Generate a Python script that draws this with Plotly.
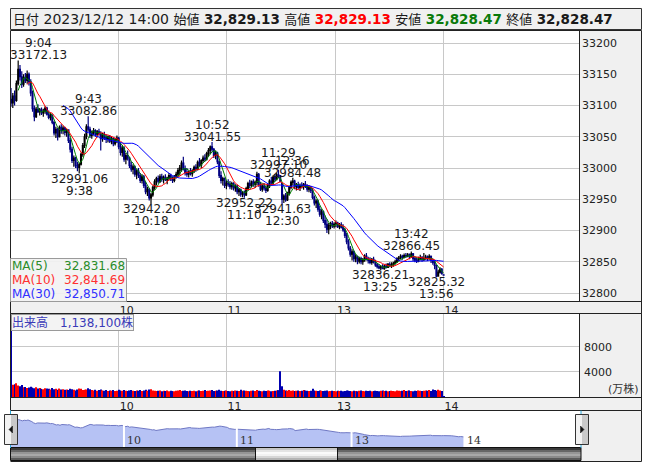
import plotly.graph_objects as go
import pandas as pd

W, H = 653, 470
def PX(x): return x / W
def PY(y): return 1 - y / H

# ---------------- data ----------------
morning = pd.date_range("2023-12-12 09:00", "2023-12-12 11:30", freq="1min")
afternoon = pd.date_range("2023-12-12 12:30", "2023-12-12 14:00", freq="1min")
bar_times = [f"{t.hour}:{t.minute:02d}" for t in morning.append(afternoon)]

opens = [
 33110,33104,33115,33108,33135,33158,33146,33134,33145,33140,
 33150,33138,33120,33095,33082,33094,33090,33093,33088,33091,
 33096,33086,33081,33084,33073,33056,33062,33050,33065,33060,
 33064,33057,33061,33044,33030,33012,33016,33004,33001,33006,
 33022,33036,33050,33066,33062,33052,33057,33060,33054,33058,
 33055,33047,33053,33049,33046,33050,33043,33047,33039,33045,
 33048,33034,33025,33032,33014,33020,33016,33004,32998,33002,
 32990,32995,32988,32980,32986,32972,32962,32966,32952,32957,
 32969,32978,32983,32979,32986,32982,32985,32981,32984,32988,
 32983,32980,32986,32990,32996,33000,33008,32999,32993,32990,
 32994,32991,32996,33001,32998,33009,33005,33012,33016,33014,
 33023,33028,33034,33030,33020,33024,33010,32988,32980,32983,
 32972,32976,32974,32970,32975,32968,32971,32962,32965,32958,
 32960,32957,32967,32975,32972,32978,32974,32977,32990,32974,
 32966,32971,32968,32964,32972,32979,32976,32985,32982,32989,
 32988,32975,32950,32955,32949,32960,32969,32977,32979,32970,
 32973,32969,32972,32970,32974,32971,32966,32969,32964,32953,
 32944,32947,32934,32926,32930,32916,32910,32902,32908,32911,
 32907,32910,32912,32906,32909,32905,32901,32892,32882,32872,
 32862,32866,32855,32858,32851,32855,32850,32853,32859,32855,
 32852,32849,32854,32850,32845,32842,32840,32842,32839,32843,
 32841,32846,32844,32845,32847.5,32850,32854.5,32856,32858.5,32857,
 32860,32859.5,32861,32858,32862.5,32855,32852.5,32851,32854,32856.5,
 32853.5,32855,32857.4,32855,32858.5,32852,32849,32844,32827,32833.5,
 32838,32829.13,
]
highs = [
 33128,33120,33124,33140,33172.13,33165,33155,33150,33152,33156,
 33153,33142,33124,33100,33098,33102,33096,33097,33095,33099,
 33098,33092,33088,33086,33075,33066,33064,33068,33070,33068,
 33066,33063,33062,33048,33034,33020,33018,33010,33008,33025,
 33040,33055,33070,33082.86,33066,33060,33064,33062,33061,33063,
 33059,33056,33058,33054,33052,33053,33050,33049,33048,33052,
 33050,33040,33036,33035,33024,33028,33018,33010,33006,33004,
 32998,33000,32992,32990,32989,32978,32970,32968,32960,32972,
 32982,32986,32988,32990,32991,32988,32990,32986,32992,32991,
 32987,32989,32994,33000,33005,33012,33018,33004,33000,32996,
 33000,32998,33004,33006,33012,33016,33014,33020,33022,33026,
 33032,33036,33041.55,33032,33028,33026,33012,32995,32986,32985,
 32980,32982,32979,32978,32977,32974,32973,32968,32967,32963,
 32964,32970,32978,32981,32980,32982,32980,32994,32992,32978,
 32974,32976,32972,32975,32982,32986,32988,32990,32992,32997.10,
 32988,32976,32958,32960,32962,32972,32980,32984.48,32981,32976,
 32978,32975,32977,32976,32979,32974,32972,32971,32968,32956,
 32950,32949,32940,32934,32932,32924,32918,32912,32914,32915,
 32913,32916,32914,32912,32913,32910,32904,32896,32886,32875,
 32870,32868,32862,32860,32858,32858,32856,32862,32864,32858,
 32857,32856,32858,32853,32848,32846,32844,32846,32845,32847,
 32848,32849,32849,32850,32853,32857,32859,32862,32861,32863,
 32864,32864,32863,32866.45,32864,32858,32856,32858,32861,32859,
 32864,32861,32860,32862,32860,32855,32851,32845,32837,32841,
 32840,32829.13,
]
lows = [
 33098,33096,33100,33106,33132,33140,33128,33130,33136,33135,
 33132,33115,33090,33075,33080,33088,33084,33085,33082,33087,
 33084,33078,33076,33070,33052,33048,33044,33049,33055,33054,
 33052,33050,33040,33025,33008,33002,33000,32995,32991.06,33004,
 33018,33032,33046,33058,33048,33047,33052,33050,33049,33052,
 33028,33042,33045,33040,33041,33040,33038,33035,33036,33040,
 33030,33020,33018,33010,33006,33012,33000,32994,32990,32986,
 32982,32984,32976,32975,32968,32958,32955,32948,32942.20,32954,
 32965,32972,32975,32976,32978,32975,32979,32974,32980,32979,
 32976,32977,32983,32986,32988,32994,32996,32988,32986,32985,
 32988,32986,32992,32994,32996,33002,33000,33008,33010,33012,
 33018,33022,33026,33016,33014,33006,32984,32975,32972,32968,
 32966,32970,32966,32965,32964,32962,32958,32955,32954,32953,
 32952.22,32955,32964,32968,32969,32970,32968,32972,32970,32963,
 32962,32964,32960,32962,32968,32972,32974,32978,32980,32984,
 32978,32941.63,32944,32946,32947,32956,32966,32972,32966,32964,
 32966,32963,32967,32965,32968,32962,32961,32960,32950,32940,
 32936,32930,32922,32918,32912,32904,32896,32894,32902,32904,
 32903,32905,32904,32902,32903,32898,32888,32878,32868,32858,
 32852,32850,32849,32846,32847,32846,32845,32850,32852,32847,
 32846,32845,32847,32842,32839,32838,32836.21,32838,32837,32839,
 32840,32841,32840,32842,32845,32848,32851,32854,32853,32855,
 32856,32857,32854,32856,32851,32849,32848,32849,32852,32850,
 32851,32853,32851,32853,32848,32845,32838,32825.32,32826,32831,
 32829,32828.47,
]
closes = [
 33104,33115,33108,33135,33158,33146,33134,33145,33140,33150,
 33138,33120,33095,33082,33094,33090,33093,33088,33091,33096,
 33086,33081,33084,33073,33056,33062,33050,33065,33060,33064,
 33057,33061,33044,33030,33012,33016,33004,33001,33006,33022,
 33036,33050,33066,33062,33052,33057,33060,33054,33058,33055,
 33047,33053,33049,33046,33050,33043,33047,33039,33045,33048,
 33034,33025,33032,33014,33020,33016,33004,32998,33002,32990,
 32995,32988,32980,32986,32972,32962,32966,32952,32957,32969,
 32978,32983,32979,32986,32982,32985,32981,32984,32988,32983,
 32980,32986,32990,32996,33000,33008,32999,32993,32990,32994,
 32991,32996,33001,32998,33009,33005,33012,33016,33014,33023,
 33028,33034,33030,33020,33024,33010,32988,32980,32983,32972,
 32976,32974,32970,32975,32968,32971,32962,32965,32958,32960,
 32957,32967,32975,32972,32978,32974,32977,32990,32974,32966,
 32971,32968,32964,32972,32979,32976,32985,32982,32989,32988,
 32978,32950,32955,32949,32960,32969,32977,32979,32970,32973,
 32969,32972,32970,32974,32971,32966,32969,32964,32953,32944,
 32947,32934,32926,32930,32916,32910,32902,32908,32911,32907,
 32910,32912,32906,32909,32905,32901,32892,32882,32872,32862,
 32866,32855,32858,32851,32855,32850,32853,32859,32855,32852,
 32849,32854,32850,32845,32842,32840,32842,32839,32843,32841,
 32846,32844,32845.0,32847.5,32850.0,32854.5,32856.0,32858.5,32857.0,32860.0,
 32859.5,32861.0,32858.0,32862.5,32855.0,32852.5,32851.0,32854.0,32856.5,32853.5,
 32855.0,32857.4,32855.0,32858.5,32852.0,32849.0,32844.0,32827.0,32833.5,32838.0,
 32831.43,32828.47,
]
volumes = [  # 万株
 13500,1950,2050,2200,1850,1700,1900,1550,1600,1450,
 1500,1650,1500,1400,1550,1350,1450,1300,1250,1400,
 1350,1300,1200,1450,1250,1300,1150,1350,1200,1250,
 1150,1200,1100,1300,1250,1150,1050,1200,1350,1300,
 1100,1150,1200,1400,1250,1100,1050,1150,1000,1100,
 1200,1050,1000,1100,950,1050,1000,1100,950,1000,
 1150,1050,1000,1100,1000,950,1050,1100,1000,950,
 1050,1000,1100,950,1050,1150,1000,1200,1250,1050,
 1000,950,1000,1050,900,1000,950,1050,900,1000,
 950,900,1000,1050,1100,950,1000,1050,950,900,
 1000,950,1000,900,1000,1050,950,1000,1100,950,
 1000,1050,1100,950,1000,1050,1150,1000,950,1000,
 1050,950,900,1000,950,1050,1000,950,1150,1000,
 1050,1000,950,900,1000,1050,950,1100,1000,950,
 900,1000,950,1050,1000,900,950,1000,1050,1100,
 4100,1700,1150,1050,1000,1100,1000,1050,950,1000,
 1050,950,1000,1100,1050,1000,950,1000,1300,1050,
 1000,950,1050,1000,950,1000,1050,900,950,1000,
 950,900,1000,950,1000,900,950,1050,1000,950,
 900,1000,950,900,1000,1050,950,900,1000,950,
 1000,900,950,1000,950,900,1000,1050,950,1000,
 900,950,1000,950,900,1050,1000,950,1000,1100,
 950,1000,1050,950,900,1000,950,1050,1000,950,
 1000,1050,1000,1100,950,1200,1100,1000,1150,1050,
 950,113.81,
]

ma_windows = [5, 10, 30]
tick_times = ["10:00", "11:00", "13:00", "14:00"]
tick_text = ["10", "11", "13", "14"]

label_time = ["9:04", "9:38", "9:43", "10:18", "10:52", "11:10",
              "11:29", "12:30", "12:36", "13:25", "13:42", "13:56"]
label_price = [33172.13, 32991.06, 33082.86, 32942.20, 33041.55, 32952.22,
               32997.10, 32941.63, 32984.48, 32836.21, 32866.45, 32825.32]
label_kind = ["H", "L", "H", "L", "H", "L", "H", "L", "H", "L", "H", "L"]

header_date = "2023/12/12 14:00"
header_names = ["始値", "高値", "安値", "終値"]
header_values = [32829.13, 32829.13, 32828.47, 32828.47]

price_ticks = [32800, 32850, 32900, 32950, 33000, 33050, 33100, 33150, 33200]
volume_ticks = [4000, 8000]

assert len(bar_times) == len(opens) == len(highs) == len(lows) == len(closes) == len(volumes)

# ---------------- styles ----------------
FONT = "DejaVu Sans, Noto Sans CJK JP, sans-serif"
ma_colors = ["#008000", "#ff0000", "#0000ff"]
ma_text_colors = ["#2a8c2a", "#ff3030", "#3030ff"]
header_colors = ["#1a1a1a", "#ff0000", "#0a7a0a", "#1a1a1a"]
UP, DOWN = "#000000", "#000080"
GRID = "#c8c8c8"
PANEL = "#f0f0f0"

x = list(range(len(bar_times)))
pos = {t: i for i, t in enumerate(bar_times)}
tick_vals = [pos[t] for t in tick_times]

# main chart pixel geometry
MX0, MX1 = 10, 579
MY0, MY1 = 30, 301
VY0, VY1 = 314, 397
NY0, NY1 = 411, 447
pxbar = 1.795
x_range = [(MX0 - 11) / pxbar, (MX1 - 11) / pxbar]
nav_px = 1.881
nav_range = [(10 - 11.1) / nav_px, (581 - 11.1) / nav_px]

fig = go.Figure()

fig.add_trace(go.Candlestick(
    x=x, open=opens, high=highs, low=lows, close=closes,
    increasing=dict(line=dict(color=UP, width=1.2), fillcolor=UP),
    decreasing=dict(line=dict(color=DOWN, width=1.2), fillcolor=DOWN),
    whiskerwidth=0, xaxis="x", yaxis="y", hoverinfo="skip"))

cs = pd.Series(closes)
ma_last = []
for w, c in zip(ma_windows, ma_colors):
    ma = cs.rolling(w).mean()
    ma_last.append(ma.iloc[-1])
    fig.add_trace(go.Scatter(x=x, y=ma, mode="lines", line=dict(color=c, width=1),
                             xaxis="x", yaxis="y", hoverinfo="skip"))

vcolors = ["#ff0000" if c >= o else "#0000b0" for o, c in zip(opens, closes)]
fig.add_trace(go.Bar(x=x, y=volumes, marker=dict(color=vcolors, line=dict(width=0)),
                     width=0.62, xaxis="x2", yaxis="y2", hoverinfo="skip"))

fig.add_trace(go.Scatter(x=x, y=closes, mode="lines", fill="tozeroy",
                         fillcolor="#b6c2f4", line=dict(color="#6f78c4", width=1),
                         xaxis="x3", yaxis="y3", hoverinfo="skip"))

# ---------------- shapes ----------------
shapes = []
def rect(x0, y0, x1, y1, fill=None, line=None, lw=1, layer="below"):
    shapes.append(dict(type="rect", xref="paper", yref="paper",
                       x0=PX(x0), x1=PX(x1), y0=PY(y1), y1=PY(y0),
                       fillcolor=fill if fill else "rgba(0,0,0,0)",
                       line=dict(color=line if line else "rgba(0,0,0,0)", width=lw if line else 0),
                       layer=layer))
def seg(x0, y0, x1, y1, color="#222", lw=1, layer="above"):
    shapes.append(dict(type="line", xref="paper", yref="paper",
                       x0=PX(x0), x1=PX(x1), y0=PY(y0), y1=PY(y1),
                       line=dict(color=color, width=lw), layer=layer))

# header
rect(10.5, 8.5, 641.5, 29.5, fill=PANEL, line="#333")
# main panel
rect(MX1, MY0, 641.5, MY1, fill=PANEL)
rect(MX0, MY1, 641.5, 313.5, fill=PANEL)
seg(MX1 + 0.5, MY0, MX1 + 0.5, MY1)
seg(MX0, MY1 + 0.5, 641.5, MY1 + 0.5)
rect(10.5, 30.5, 641.5, 313.5, line="#222", layer="above")
# volume panel
rect(MX1, VY0, 641.5, VY1, fill=PANEL)
rect(MX0, VY1, 641.5, 410.5, fill=PANEL)
seg(MX1 + 0.5, VY0, MX1 + 0.5, VY1)
seg(MX0, VY1 + 0.5, 641.5, VY1 + 0.5)
rect(10.5, 313.5, 641.5, 410.5, line="#222", layer="above")
# MA legend box
rect(10.5, 258.5, 126.5, MY1 + 0.5, fill="rgba(242,242,242,0.92)", line="#9a9a9a", layer="above")
# navigator
rect(581, 410.5, 641.5, 461, fill=PANEL)
seg(641.5, 410.5, 641.5, 461.5)
seg(10.5, 461.5, 641.5, 461.5)
for t in tick_times:
    xi = pos[t]
    shapes.append(dict(type="line", xref="x3", yref="paper", x0=xi, x1=xi,
                       y0=PY(NY1), y1=PY(NY0), line=dict(color="white", width=2), layer="above"))
# scrollbar stripes
bar_cols = ["#3a3a3a", "#666666", "#959595", "#a8a8a8", "#8a8a8a", "#5a5a5a"]
thumb_cols = ["#c6c6c6", "#e4e4e4", "#fafafa", "#f2f2f2", "#d6d6d6", "#b4b4b4"]
for k, (c1, c2) in enumerate(zip(bar_cols, thumb_cols)):
    y0 = 448 + 2 * k
    rect(10.5, y0, 581, y0 + 2, fill=c1, layer="above")
    rect(255, y0, 337, y0 + 2, fill=c2, layer="above")
rect(10.5, 447.5, 581, 460.5, line="#111", layer="above")
rect(255.5, 447.5, 337.5, 460.5, line="#111", layer="above")
# cyan handles
seg(10.5, 410.5, 10.5, 448, color="#2aa8dc")
seg(581, 410.5, 581, 448, color="#2aa8dc")
# buttons
for bx0, bx1, direction in [(4.5, 17.5, -1), (575.5, 588.5, 1)]:
    rect(bx0, 414.5, (bx0 + bx1) / 2, 444.5, fill="#f2f2f2", layer="above")
    rect((bx0 + bx1) / 2, 414.5, bx1, 444.5, fill="#c9c9c9", layer="above")
    rect(bx0, 414.5, bx1, 444.5, line="#333", layer="above")
    cx = (bx0 + bx1) / 2
    tip, base = cx + 2 * direction, cx - 1.5 * direction
    shapes.append(dict(type="path", xref="paper", yref="paper",
                       path=f"M {PX(base)} {PY(426)} L {PX(tip)} {PY(429.5)} L {PX(base)} {PY(433)} Z",
                       fillcolor="#111", line=dict(color="#111", width=0.5), layer="above"))

# ---------------- annotations ----------------
ann = []
lab = lambda s: f'<span style="font-size:13px">{s}</span>'
val = lambda v, c: f'<span style="font-size:13.5px;color:{c}"><b>{v:,.2f}</b></span>'
htxt = lab("日付") + " " + f'<span style="font-size:14px">{header_date}</span>'
for n, v, c in zip(header_names, header_values, header_colors):
    htxt += " " + lab(n) + " " + val(v, c)
ann.append(dict(xref="paper", yref="paper", x=PX(11), y=PY(19), xanchor="left", yanchor="middle",
                text=htxt, showarrow=False, font=dict(size=14, color="#1a1a1a")))

# high / low labels (price line next to the extreme, time line beyond it)
for t, p, k in zip(label_time, label_price, label_kind):
    xi = pos[t]
    xv = xi
    if xi * pxbar + 11 - 30 < MX0:          # keep label inside the plot's left edge
        xv = (MX0 + 28 - 11) / pxbar
    sgn = 1 if k == "H" else -1
    for txt, off in [(f"{p:.2f}", -4), (t, 8)]:
        ann.append(dict(xref="x", yref="y", x=xv, y=p, text=txt, showarrow=False,
                        xanchor="center", yanchor="bottom" if k == "H" else "top",
                        yshift=sgn * off, font=dict(size=12, color="#1a1a1a")))

# MA legend
for i, (w, c, v) in enumerate(zip(ma_windows, ma_text_colors, ma_last)):
    yy = 266 + 14 * i
    ann.append(dict(xref="paper", yref="paper", x=PX(10), y=PY(yy), xanchor="left", yanchor="middle",
                    text=f"MA({w})", showarrow=False, font=dict(size=12, color=c)))
    ann.append(dict(xref="paper", yref="paper", x=PX(126.5), y=PY(yy), xanchor="right", yanchor="middle",
                    text=f"{v:,.2f}", showarrow=False, font=dict(size=12, color=c)))

# volume label
ann.append(dict(xref="paper", yref="paper", x=PX(10.5), y=PY(314), xanchor="left", yanchor="top",
                text=f"出来高\u3000{int(round(volumes[-1] * 10000)):,}株", showarrow=False,
                bgcolor="rgba(242,242,242,0.92)", bordercolor="#9a9a9a", borderwidth=1, borderpad=0,
                font=dict(size=12, color="#3a3ab8")))
ann.append(dict(xref="paper", yref="paper", x=PX(623), y=PY(389), xanchor="center", yanchor="middle",
                text="(万株)", showarrow=False, font=dict(size=11, color="#333")))

# navigator labels
for t, s in zip(tick_times, tick_text):
    ann.append(dict(xref="x3", yref="paper", x=pos[t], y=PY(440.5), xanchor="left", yanchor="middle",
                    xshift=1, text=s, showarrow=False,
                    font=dict(family="DejaVu Serif, Liberation Serif, serif", size=11, color="#333")))

axis_common = dict(showline=False, zeroline=False, ticks="", fixedrange=True)
xcommon = dict(axis_common, range=x_range, domain=[PX(MX0), PX(MX1)], tickvals=tick_vals,
               ticktext=tick_text, showgrid=True, gridcolor=GRID, gridwidth=1,
               tickfont=dict(size=11, color="#222"), ticklabelshift=8, ticklabelstandoff=1)

fig.update_layout(
    width=W, height=H, margin=dict(l=0, r=0, t=0, b=0),
    paper_bgcolor="white", plot_bgcolor="white", showlegend=False, hovermode=False,
    font=dict(family=FONT, size=12, color="#222"),
    xaxis=dict(xcommon, anchor="y", rangeslider=dict(visible=False)),
    yaxis=dict(axis_common, domain=[PY(MY1), PY(MY0)], range=[32787.2, 33220.8], side="right",
               anchor="x", tickvals=price_ticks, tickformat="d", showgrid=True, gridcolor=GRID,
               tickfont=dict(size=11, color="#222"), ticklabelstandoff=2),
    xaxis2=dict(xcommon, anchor="y2"),
    yaxis2=dict(axis_common, domain=[PY(VY1), PY(VY0)], range=[0, 13226], side="right",
                anchor="x2", tickvals=volume_ticks, tickformat="d", showgrid=True, gridcolor=GRID,
                tickfont=dict(size=11, color="#222"), ticklabelstandoff=4),
    xaxis3=dict(axis_common, range=nav_range, domain=[PX(10), PX(581)], visible=False, anchor="y3"),
    yaxis3=dict(axis_common, range=[32640, 33320], domain=[PY(NY1), PY(NY0)], visible=False, anchor="x3"),
    shapes=shapes, annotations=ann,
)

fig.write_html("out.html", config={"displayModeBar": False},
               post_script="document.body.style.margin='0';document.body.style.overflow='hidden';")
